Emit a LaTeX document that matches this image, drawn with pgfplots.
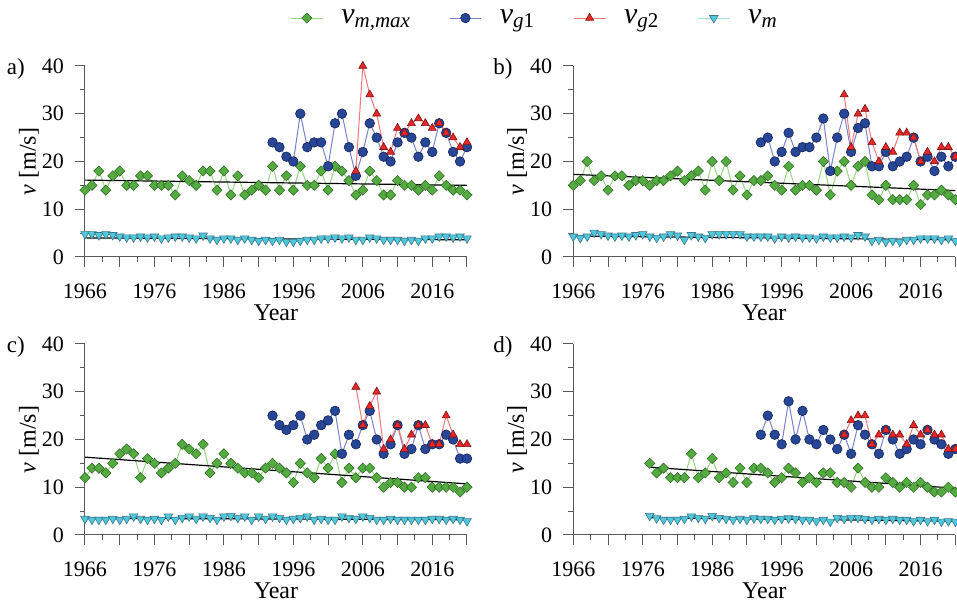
\documentclass[border=0pt]{standalone}
\usepackage{fontspec}
\setmainfont{Liberation Serif}
\usepackage{pgfplots}
\usepackage{pgfplotstable}
\pgfplotsset{compat=1.18}
\definecolor{gfill}{RGB}{84,172,64}
\definecolor{gline}{RGB}{150,215,130}
\definecolor{gedge}{RGB}{50,110,40}
\definecolor{bfill}{RGB}{40,70,150}
\definecolor{bline}{RGB}{120,130,205}
\definecolor{bedge}{RGB}{20,35,90}
\definecolor{rfill}{RGB}{232,40,40}
\definecolor{rline}{RGB}{240,120,120}
\definecolor{redge}{RGB}{120,20,20}
\definecolor{cfill}{RGB}{80,200,220}
\definecolor{cline}{RGB}{160,225,235}
\definecolor{cedge}{RGB}{60,120,140}

% panel a
\pgfplotstableread{
year g c
1966 14 4.8
1967 15 4.8
1968 18 4.6
1969 14 4.8
1970 17 4.6
1971 18 4.3
1972 15 4.1
1973 15 4.1
1974 17 4.3
1975 17 4.1
1976 15 4.3
1977 15 3.9
1978 15 4.1
1979 13 4.3
1980 17 4.3
1981 16 4.1
1982 15 3.9
1983 18 4.5
1984 18 3.9
1985 14 3.6
1986 18 3.9
1987 13 3.9
1988 17 3.6
1989 13 3.9
1990 14 3.6
1991 15 3.4
1992 14 3.6
1993 19 3.4
1994 14 3.6
1995 17 3.2
1996 14 3.2
1997 19 3.4
1998 15 3.6
1999 15 3.6
2000 18 3.9
2001 14 3.9
2002 19 4.1
2003 18 3.9
2004 16 4.1
2005 13 3.6
2006 14 3.6
2007 18 4.1
2008 16 3.9
2009 13 3.6
2010 13 3.6
2011 16 3.6
2012 15 3.4
2013 15 3.6
2014 14 3.4
2015 15 3.9
2016 14 3.9
2017 17 4.3
2018 15 4.3
2019 14 4.1
2020 14 4.3
2021 13 3.9
}\tA
\pgfplotstableread{
year v
1993 24
1994 23
1995 21
1996 20
1997 30
1998 23
1999 24
2000 24
2001 19
2002 28
2003 30
2004 23
2005 17
2006 22
2007 28
2008 25
2009 21
2010 20
2011 24
2012 26
2013 25
2014 21
2015 24
2016 22
2017 28
2018 26
2019 22
2020 20
2021 23
}\bA
\pgfplotstableread{
year v
2005 18
2006 40
2007 34
2008 30
2009 23
2010 22
2011 27
2012 26
2013 28
2014 29
2015 28
2016 27
2017 28
2018 26
2019 25
2020 23
2021 24
}\rA

% panel b
\pgfplotstableread{
year g c
1966 15 4.3
1967 16 4.0
1968 20 4.3
1969 16 5.1
1970 17 4.8
1971 14 4.5
1972 17 4.3
1973 17 4.5
1974 15 4.3
1975 16 4.6
1976 16 4.8
1977 15 4.3
1978 16 4.0
1979 16 4.3
1980 17 4.8
1981 18 4.5
1982 16 3.6
1983 17 4.6
1984 18 4.3
1985 14 4.0
1986 20 4.8
1987 16 4.8
1988 20 4.8
1989 14 4.8
1990 17 4.8
1991 13 4.3
1992 16 4.3
1993 16 4.3
1994 17 4.3
1995 15 3.9
1996 14 4.3
1997 19 4.1
1998 14 4.3
1999 15 4.1
2000 15 4.1
2001 14 3.9
2002 20 4.3
2003 13 4.1
2004 18 4.1
2005 20 4.3
2006 15 4.1
2007 19 4.6
2008 20 4.3
2009 13 3.4
2010 12 3.6
2011 15 3.2
2012 12 3.4
2013 12 3.2
2014 12 3.6
2015 15 3.6
2016 11 3.9
2017 13 3.9
2018 13 3.9
2019 14 3.6
2020 13 3.9
2021 12 3.4
}\tB
\pgfplotstableread{
year v
1993 24
1994 25
1995 20
1996 22
1997 26
1998 22
1999 23
2000 23
2001 25
2002 29
2003 18
2004 25
2005 30
2006 22
2007 27
2008 28
2009 19
2010 19
2011 22
2012 19
2013 20
2014 21
2015 25
2016 20
2017 21
2018 18
2019 21
2020 19
2021 21
}\bB
\pgfplotstableread{
year v
2005 34
2006 23
2007 30
2008 31
2009 24
2010 20
2011 23
2012 22
2013 26
2014 26
2015 25
2016 20
2017 22
2018 20
2019 23
2020 23
2021 21
}\rB

% panel c
\pgfplotstableread{
year g c
1966 12 3.4
1967 14 3.2
1968 14 3.2
1969 13 3.2
1970 15 3.4
1971 17 3.2
1972 18 3.4
1973 17 3.9
1974 12 3.4
1975 16 3.2
1976 15 3.4
1977 13 3.2
1978 14 3.9
1979 15 3.2
1980 19 3.6
1981 18 3.9
1982 17 3.4
1983 19 3.9
1984 13 3.6
1985 15 3.2
1986 17 3.9
1987 15 4.0
1988 14 3.6
1989 13 3.9
1990 13 3.2
1991 12 3.9
1992 14 3.4
1993 15 3.9
1994 14 3.6
1995 13 3.2
1996 11 3.4
1997 15 3.6
1998 13 3.9
1999 12 3.2
2000 16 3.4
2001 14 3.2
2002 17 3.2
2003 11 3.9
2004 14 3.6
2005 12 3.4
2006 14 3.9
2007 14 3.6
2008 12 3.2
2009 10 3.2
2010 11 3.4
2011 11 3.2
2012 10 3.2
2013 10 3.2
2014 12 3.2
2015 12 3.2
2016 10 3.4
2017 10 3.4
2018 10 3.2
2019 10 3.4
2020 9 3.2
2021 10 2.9
}\tC
\pgfplotstableread{
year v
1993 25
1994 23
1995 22
1996 23
1997 25
1998 20
1999 21
2000 23
2001 24
2002 26
2003 17
2004 21
2005 19
2006 23
2007 26
2008 20
2009 17
2010 19
2011 23
2012 17
2013 18
2014 23
2015 18
2016 19
2017 19
2018 21
2019 20
2020 16
2021 16
}\bC
\pgfplotstableread{
year v
2005 31
2006 23
2007 27
2008 30
2009 18
2010 20
2011 23
2012 18
2013 21
2014 23
2015 23
2016 19
2017 19
2018 25
2019 21
2020 19
2021 19
}\rC

% panel d
\pgfplotstableread{
year g c
1977 15 4.0
1978 13 3.5
1979 14 3.2
1980 12 3.2
1981 12 3.2
1982 12 3.4
1983 17 3.9
1984 12 3.6
1985 13 3.4
1986 16 4.0
1987 12 3.6
1988 13 3.4
1989 11 3.2
1990 14 3.4
1991 11 3.2
1992 14 3.5
1993 14 3.4
1994 13 3.4
1995 11 3.2
1996 12 3.4
1997 14 3.5
1998 13 3.4
1999 11 3.2
2000 12 3.2
2001 11 2.9
2002 13 3.2
2003 13 2.8
2004 11 3.6
2005 11 3.4
2006 10 3.6
2007 14 3.6
2008 11 3.4
2009 10 3.2
2010 10 3.4
2011 12 3.2
2012 11 3.4
2013 10 3.2
2014 11 3.2
2015 10 2.9
2016 11 3.2
2017 10 2.9
2018 9 3.2
2019 9 2.8
2020 10 2.9
2021 9 2.8
}\tD
\pgfplotstableread{
year v
1993 21
1994 25
1995 21
1996 19
1997 28
1998 20
1999 26
2000 20
2001 19
2002 22
2003 20
2004 18
2005 21
2006 17
2007 23
2008 21
2009 19
2010 17
2011 22
2012 20
2013 17
2014 18
2015 20
2016 19
2017 22
2018 20
2019 19
2020 17
2021 18
}\bD
\pgfplotstableread{
year v
2005 21
2006 24
2007 25
2008 25
2009 19
2010 21
2011 22
2012 21
2013 21
2014 19
2015 23
2016 21
2017 22
2018 21
2019 21
2020 18
2021 18
}\rD

\tikzset{plabel/.style={font=\fontsize{11.5}{13}\selectfont, anchor=center}}
\pgfplotsset{
  panel/.style={
    width=191pt, height=95.5pt, scale only axis,
    axis lines*=left, clip=false,
    xmin=1966, xmax=2021, ymin=0, ymax=40,
    xtick={1966,1971,...,2021},
    xticklabels={1966,,1976,,1986,,1996,,2006,,2016,},
    minor x tick num=1,
    ytick={0,10,20,30,40}, minor ytick={5,15,25,35},
    tick align=outside,
    major tick length=5pt, minor tick length=2.5pt,
    tick style={black!65, line width=0.5pt},
    axis line style={black!65, line width=0.5pt},
    every tick label/.append style={font=\fontsize{11}{12}\selectfont},
    xticklabel style={yshift=-5pt},
    yticklabel style={xshift=-2pt},
    /pgf/number format/assume math mode=true,
    label style={font=\fontsize{12}{14}\selectfont},
    xlabel={Year},
    ylabel={\textit{v} [m/s]},
    xlabel style={at={(axis description cs:0.5,-0.29)}, anchor=center},
    ylabel style={at={(axis description cs:-0.147,0.5)}, anchor=center},
  },
  gser/.style={color=gline, line width=0.5pt, mark=square*, mark size=1.8pt,
    mark options={rotate=45, fill=gfill, draw=gedge, line width=0.3pt}},
  bser/.style={color=bline, line width=0.5pt, mark=*, mark size=2.4pt,
    mark options={fill=bfill, draw=bedge, line width=0.3pt}},
  rser/.style={color=rline, line width=0.5pt, mark=triangle*, mark size=2.3pt,
    mark options={fill=rfill, draw=redge, line width=0.3pt}},
  cser/.style={color=cline, line width=0.5pt, mark=triangle*, mark size=2.5pt,
    mark options={rotate=180, fill=cfill, draw=cedge, line width=0.3pt}},
  trend/.style={black, line width=0.6pt, no marks, forget plot},
}

\begin{document}
\begin{tikzpicture}
% ---------- a ----------
\begin{axis}[panel, at={(42.5pt,173pt)}, anchor=south west,
  legend style={at={(axis description cs:0.521,1.251)}, anchor=west,
    draw=none, fill=none, legend columns=4,
    font=\fontsize{15}{18}\selectfont,
    /tikz/every odd column/.append style={column sep=7pt},
    /tikz/every even column/.append style={column sep=17pt}},
  legend image code/.code={\draw[mark repeat=2,mark phase=2] plot coordinates {(0cm,0cm) (0.28cm,0cm) (0.56cm,0cm)};}]
\addplot[gser] table[x=year,y=g] {\tA};
\addlegendentry{\textit{v}\textsubscript{\textit{m,max}}}
\addplot[bser] table[x=year,y=v] {\bA};
\addlegendentry{\textit{v}\textsubscript{\textit{g}1}}
\addplot[rser] table[x=year,y=v] {\rA};
\addlegendentry{\textit{v}\textsubscript{\textit{g}2}}
\addplot[cser] table[x=year,y=c] {\tA};
\addlegendentry{\textit{v}\textsubscript{\textit{m}}}
\addplot[trend] coordinates {(1966,16.1) (2021,15.0)};
\addplot[trend] coordinates {(1966,4.0) (2021,3.6)};
\node[plabel] at (axis description cs:-0.181,0.984) {a)};
\end{axis}
% ---------- b ----------
\begin{axis}[panel, at={(286.65pt,173pt)}, anchor=south west]
\addplot[gser] table[x=year,y=g] {\tB};
\addplot[bser] table[x=year,y=v] {\bB};
\addplot[rser] table[x=year,y=v] {\rB};
\addplot[cser] table[x=year,y=c] {\tB};
\addplot[trend] coordinates {(1966,17.3) (2021,13.9)};
\addplot[trend] coordinates {(1966,4.4) (2021,3.6)};
\node[plabel] at (axis description cs:-0.184,0.984) {b)};
\end{axis}
% ---------- c ----------
\begin{axis}[panel, at={(42.5pt,34pt)}, anchor=south west]
\addplot[gser] table[x=year,y=g] {\tC};
\addplot[bser] table[x=year,y=v] {\bC};
\addplot[rser] table[x=year,y=v] {\rC};
\addplot[cser] table[x=year,y=c] {\tC};
\addplot[trend] coordinates {(1966,16.3) (2021,10.7)};
\addplot[trend] coordinates {(1966,3.5) (2021,3.2)};
\node[plabel] at (axis description cs:-0.181,0.984) {c)};
\end{axis}
% ---------- d ----------
\begin{axis}[panel, at={(286.65pt,34pt)}, anchor=south west]
\addplot[gser] table[x=year,y=g] {\tD};
\addplot[bser] table[x=year,y=v] {\bD};
\addplot[rser] table[x=year,y=v] {\rD};
\addplot[cser] table[x=year,y=c] {\tD};
\addplot[trend] coordinates {(1977,14.2) (2021,9.8)};
\addplot[trend] coordinates {(1977,3.6) (2021,2.9)};
\node[plabel] at (axis description cs:-0.184,0.984) {d)};
\end{axis}
\pgfresetboundingbox
\useasboundingbox (0,0) rectangle (478.5pt,301.5pt);
\end{tikzpicture}
\end{document}
